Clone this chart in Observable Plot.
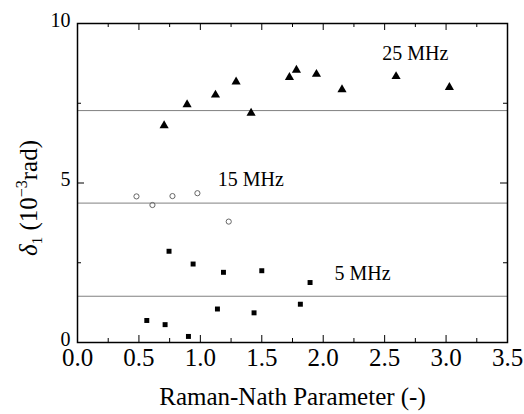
<!DOCTYPE html>
<html><head><meta charset="utf-8">
<script src="https://cdn.jsdelivr.net/npm/d3@7"></script>
<script src="https://cdn.jsdelivr.net/npm/@observablehq/plot@0.6"></script>
<style>html,body{margin:0;padding:0;background:#fff}
svg text{font-family:"Liberation Serif","Times New Roman",serif}</style>
</head><body><div id="chart"></div>
<script>
// 25 MHz (filled triangles)
const x25 = [0.705, 0.892, 1.123, 1.291, 1.413, 1.725, 1.782, 1.945, 2.153, 2.593, 3.027];
const y25 = [6.80, 7.46, 7.76, 8.17, 7.19, 8.31, 8.54, 8.41, 7.93, 8.34, 8.00];
// 15 MHz (open circles)
const x15 = [0.480, 0.610, 0.773, 0.976, 1.231];
const y15 = [4.58, 4.31, 4.59, 4.68, 3.79];
// 5 MHz (filled squares)
const x5 = [0.745, 0.941, 1.188, 1.500, 1.893, 0.564, 0.713, 0.903, 1.139, 1.437, 1.814];
const y5 = [2.86, 2.46, 2.20, 2.25, 1.88, 0.69, 0.56, 0.19, 1.05, 0.93, 1.20];
// horizontal reference levels
const levels = [7.27, 4.37, 1.45];
// series labels
const labelText = ["25 MHz", "15 MHz", "5 MHz"];
const labelX = [2.75, 1.41, 2.32];
const labelY = [9.07, 5.12, 2.17];
// ticks
const xMajor = [0, 0.5, 1.0, 1.5, 2.0, 2.5, 3.0, 3.5];
const xMinor = [0.25, 0.75, 1.25, 1.75, 2.25, 2.75, 3.25];
const yMajor = [0, 5, 10];
const yMinor = [2.5, 7.5];

const pts = (xs, ys) => xs.map((x, i) => ({x, y: ys[i]}));
const d25 = pts(x25, y25), d15 = pts(x15, y15), d5 = pts(x5, y5);
const labels = labelText.map((t, i) => ({t, x: labelX[i], y: labelY[i]}));

const W = 524, H = 414, mT = 23, mB = 72, mL = 77, mR = 17;
const pH = H - mT - mB, pW = W - mL - mR;
const font = '"Liberation Serif", "Times New Roman", serif';

const chart = Plot.plot({
  width: W, height: H,
  marginTop: mT, marginBottom: mB, marginLeft: mL, marginRight: mR,
  x: {domain: [0, 3.5]},
  y: {domain: [0, 10]},
  style: {fontFamily: font, background: "#fff", color: "#000"},
  marks: [
    Plot.ruleY(levels, {stroke: "#808080", strokeWidth: 1}),
    Plot.axisX({ticks: xMajor, tickSize: 0, tickPadding: 6, tickFormat: d3.format(".1f"), fontSize: 25, fontFamily: font, label: null}),
    Plot.axisY({ticks: yMajor, tickSize: 0, tickPadding: 7, dy: -3, fontSize: 20, fontFamily: font, label: null}),
    // inward ticks on all four sides
    Plot.tickX(xMajor, {x: d => d, insetTop: pH - 7, stroke: "#000"}),
    Plot.tickX(xMinor, {x: d => d, insetTop: pH - 4, stroke: "#000"}),
    Plot.tickX(xMajor, {x: d => d, insetBottom: pH - 7, stroke: "#000"}),
    Plot.tickX(xMinor, {x: d => d, insetBottom: pH - 4, stroke: "#000"}),
    Plot.tickY(yMajor, {y: d => d, insetRight: pW - 7, stroke: "#000"}),
    Plot.tickY(yMinor, {y: d => d, insetRight: pW - 4, stroke: "#000"}),
    Plot.tickY(yMajor, {y: d => d, insetLeft: pW - 7, stroke: "#000"}),
    Plot.tickY(yMinor, {y: d => d, insetLeft: pW - 4, stroke: "#000"}),
    Plot.frame({stroke: "#000", strokeWidth: 1.5}),
    Plot.dot(d25, {x: "x", y: "y", symbol: "triangle", r: 3.4, fill: "#000", stroke: "none"}),
    Plot.dot(d15, {x: "x", y: "y", symbol: "circle", r: 2.6, fill: "none", stroke: "#666", strokeWidth: 1}),
    Plot.dot(d5, {x: "x", y: "y", symbol: "square", r: 2.8, fill: "#000", stroke: "none"}),
    Plot.text(labels, {x: "x", y: "y", text: "t", fontSize: 20, fontFamily: font, fill: "#000", textAnchor: "middle"}),
    Plot.text(["Raman-Nath Parameter (-)"], {frameAnchor: "bottom", dy: 62, fontSize: 25, fontFamily: font, fill: "#000"})
  ]
});
document.getElementById("chart").appendChild(chart);

// y-axis title with italic delta, subscript and superscript
const svg = d3.select(chart);
const t = svg.append("text")
  .attr("transform", "translate(37,198) rotate(-90)")
  .attr("text-anchor", "middle")
  .attr("font-family", font)
  .attr("font-size", 25)
  .attr("fill", "#000");
t.append("tspan").attr("font-style", "italic").text("δ");
t.append("tspan").attr("font-size", 15).attr("dy", 5).text("1");
t.append("tspan").attr("dy", -5).text(" (10");
t.append("tspan").attr("font-size", 16).attr("dy", -10).text("−3");
t.append("tspan").attr("dy", 10).text("rad)");
</script>
</body></html>
